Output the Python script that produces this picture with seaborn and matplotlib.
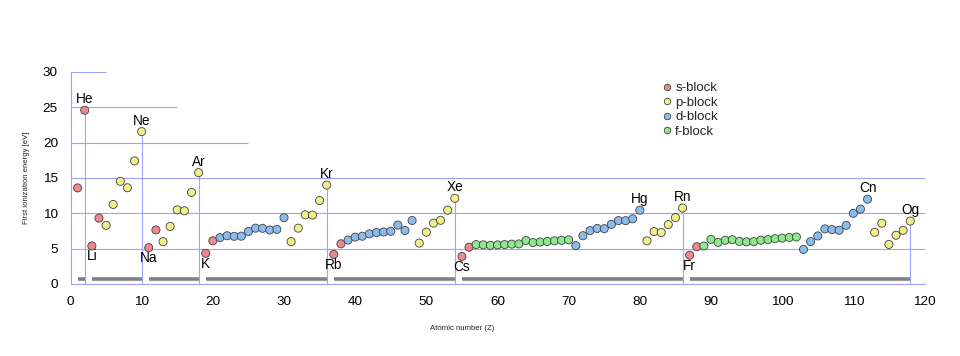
import matplotlib
matplotlib.use("Agg")
import matplotlib.pyplot as plt
import seaborn as sns
import pandas as pd
import numpy as np

# ---- data ----
atomic_number = list(range(1, 119))
ionization_ev = [
    13.60, 24.59, 5.39, 9.32, 8.30, 11.26, 14.53, 13.62, 17.42, 21.56,
    5.14, 7.65, 5.99, 8.15, 10.49, 10.36, 12.97, 15.76,
    4.34, 6.11, 6.56, 6.83, 6.75, 6.77, 7.43, 7.90, 7.88, 7.64, 7.73, 9.39,
    6.00, 7.90, 9.79, 9.75, 11.81, 14.00,
    4.18, 5.69, 6.22, 6.63, 6.76, 7.09, 7.28, 7.36, 7.46, 8.34, 7.58, 8.99,
    5.79, 7.34, 8.61, 9.01, 10.45, 12.13,
    3.89, 5.21, 5.58, 5.54, 5.47, 5.53, 5.58, 5.64, 5.67, 6.15, 5.86, 5.94,
    6.02, 6.11, 6.18, 6.25, 5.43, 6.83, 7.55, 7.86, 7.83, 8.44, 8.97, 8.96,
    9.23, 10.44, 6.11, 7.42, 7.29, 8.41, 9.40, 10.75,
    4.07, 5.28, 5.38, 6.31, 5.89, 6.19, 6.27, 6.03, 5.97, 5.99, 6.20, 6.28,
    6.42, 6.50, 6.58, 6.65, 4.90, 6.00, 6.80, 7.80, 7.70, 7.60, 8.30, 10.00,
    10.60, 12.00, 7.31, 8.60, 5.60, 6.90, 7.60, 8.90,
]
s_block = [1, 2, 3, 4, 11, 12, 19, 20, 37, 38, 55, 56, 87, 88]
f_block = list(range(57, 71)) + list(range(89, 103))
d_block = list(range(21, 31)) + list(range(39, 49)) + list(range(71, 81)) + list(range(103, 113))
block_names = ["s-block", "p-block", "d-block", "f-block"]

labels_above = ["He", "Ne", "Ar", "Kr", "Xe", "Hg", "Rn", "Cn", "Og"]
labels_above_z = [2, 10, 18, 36, 54, 80, 86, 112, 118]
labels_below = ["Li", "Na", "K", "Rb", "Cs", "Fr"]
labels_below_z = [3, 11, 19, 37, 55, 87]

noble_z = [2, 10, 18, 36, 54, 86, 118]
period_start = [1, 3, 11, 19, 37, 55, 87]
period_end = [2, 10, 18, 36, 54, 86, 118]

grid_levels = [5, 10, 15, 20, 25, 30]
grid_extent = [120, 120, 120, 25, 15, 5]

x_ticks = list(range(0, 121, 10))
x_minor = list(range(5, 121, 10))
y_ticks = list(range(0, 31, 5))


def block_of(z):
    if z in s_block:
        return "s-block"
    if z in d_block:
        return "d-block"
    if z in f_block:
        return "f-block"
    return "p-block"


df = pd.DataFrame({"Z": atomic_number, "E": ionization_ev})
df["block"] = [block_of(z) for z in atomic_number]

palette = {"s-block": "#f0868e", "p-block": "#f0f08a",
           "d-block": "#8cbcee", "f-block": "#8ee88e"}
LINE = "#a0a0ff"

sns.set_theme(style="white")
plt.rcParams["font.family"] = ["Liberation Sans", "DejaVu Sans"]

fig = plt.figure(figsize=(9.6, 3.56), dpi=100)
ax = fig.add_axes([70.5 / 960, 72 / 356, 854 / 960, 212 / 356])

# grid lines
for lvl, ext in zip(grid_levels, grid_extent):
    ax.hlines(lvl, 0, ext, color=LINE, lw=0.8, zorder=1)
# period bars
ax.hlines([0.75] * len(period_start), period_start, period_end,
          color="#808080", lw=2.6, zorder=1, capstyle="butt")
# noble gas verticals
noble_e = [ionization_ev[z - 1] for z in noble_z]
ax.vlines(noble_z, 0, noble_e, color=LINE, lw=0.8, zorder=1.5)

sns.scatterplot(data=df, x="Z", y="E", hue="block", hue_order=block_names,
                palette=palette, s=34, edgecolor="#404040", linewidth=0.6,
                ax=ax, zorder=3, clip_on=False, legend=True)

for name, z in zip(labels_above, labels_above_z):
    ax.annotate(name, (z, ionization_ev[z - 1]), xytext=(0, 7),
                textcoords="offset pixels", ha="center", va="baseline",
                fontsize=9.8, color="black", zorder=4)
for name, z in zip(labels_below, labels_below_z):
    ax.annotate(name, (z, ionization_ev[z - 1]), xytext=(0, -14.5),
                textcoords="offset pixels", ha="center", va="baseline",
                fontsize=9.8, color="black", zorder=4)

ax.set_xlim(0, 120)
ax.set_ylim(0, 30)
ax.set_xticks(x_ticks)
ax.set_xticks(x_minor, minor=True)
ax.set_yticks(y_ticks)
ax.tick_params(axis="both", which="both", direction="out", color=LINE,
               labelcolor="black", labelsize=9.7)
ax.tick_params(axis="x", which="both", length=5.8, width=0.8, pad=3)
ax.tick_params(axis="y", length=5, width=0.8, pad=4)

for side in ["top", "right"]:
    ax.spines[side].set_visible(False)
for side in ["left", "bottom"]:
    ax.spines[side].set_color(LINE)
    ax.spines[side].set_linewidth(0.8)

ax.set_xlabel("Atomic number (Z)", fontsize=5.6, color="#222222")
ax.xaxis.set_label_coords((462 - 70.5) / 854, -(325 - 284) / 212)
ax.set_ylabel("First ionization energy [eV]", fontsize=5.6, color="#222222")
ax.yaxis.set_label_coords((30.5 - 70.5) / 854, 0.5)

handles, lbls = ax.get_legend_handles_labels()
leg = ax.legend(handles, lbls, loc="upper left",
                bbox_to_anchor=((664 - 70.5) / 854, 1 - (82 - 72) / 212),
                frameon=False, fontsize=9.5, markerscale=0.8,
                handlelength=0.4, handletextpad=0.45, labelspacing=0.17,
                borderpad=0, borderaxespad=0)

fig.savefig("out.png", dpi=100)
